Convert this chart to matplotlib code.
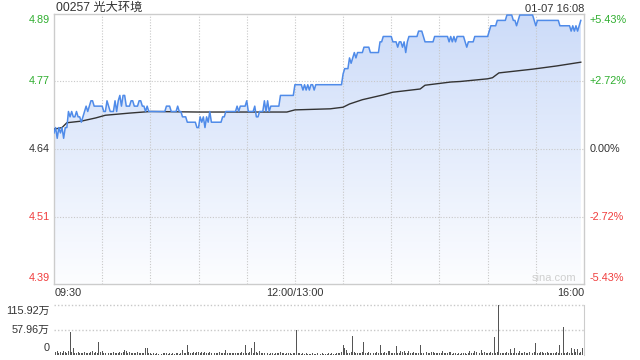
import numpy as np
import matplotlib
matplotlib.use('Agg')
import matplotlib.pyplot as plt
from matplotlib.patches import Polygon

plt.rcParams['font.family'] = ['Liberation Sans', 'Noto Sans CJK SC', 'DejaVu Sans']

# ---------------- data ----------------
title = '00257 光大环境'
stamp = '01-07 16:08'
prev_close = 4.64
pct_limit = 5.43
price_labels = ['4.89', '4.77', '4.64', '4.51', '4.39']
pct_labels = ['+5.43%', '+2.72%', '0.00%', '-2.72%', '-5.43%']
pct_levels = [5.43, 2.72, 0.0, -2.72, -5.43]
time_labels = ['09:30', '12:00/13:00', '16:00']
session_minutes = 330
vol_labels = ['115.92万', '57.96万', '0']
vol_levels = [115.92, 57.96, 0]

# one price per minute from 09:30
price = [
    4.67, 4.68, 4.66, 4.68, 4.67, 4.68, 4.66, 4.68, 4.68, 4.71,
    4.70, 4.71, 4.70, 4.70, 4.71, 4.70, 4.70, 4.69, 4.70, 4.71,
    4.72, 4.71, 4.72, 4.73, 4.73, 4.72, 4.72, 4.72, 4.72, 4.72,
    4.72, 4.71, 4.71, 4.73, 4.72, 4.71, 4.71, 4.71, 4.73, 4.71,
    4.73, 4.74, 4.72, 4.74, 4.74, 4.72, 4.72, 4.72, 4.73, 4.73,
    4.72, 4.72, 4.72, 4.73, 4.73, 4.72, 4.72, 4.71, 4.72, 4.71,
    4.71, 4.71, 4.71, 4.71, 4.71, 4.71, 4.71, 4.71, 4.71, 4.71,
    4.72, 4.72, 4.72, 4.71, 4.71, 4.71, 4.71, 4.72, 4.71, 4.71,
    4.70, 4.70, 4.70, 4.69, 4.69, 4.69, 4.69, 4.69, 4.69, 4.68,
    4.68, 4.70, 4.69, 4.70, 4.68, 4.70, 4.69, 4.71, 4.69, 4.69,
    4.69, 4.69, 4.69, 4.69, 4.69, 4.70, 4.70, 4.71, 4.71, 4.71,
    4.71, 4.71, 4.71, 4.71, 4.72, 4.71, 4.72, 4.72, 4.72, 4.72,
    4.73, 4.71, 4.71, 4.71, 4.71, 4.72, 4.70, 4.70, 4.71, 4.71,
    4.71, 4.73, 4.71, 4.73, 4.71, 4.72, 4.72, 4.72, 4.72, 4.72,
    4.72, 4.74, 4.74, 4.74, 4.74, 4.74, 4.74, 4.74, 4.74, 4.74,
    4.76, 4.76, 4.76, 4.76, 4.76, 4.75, 4.76, 4.75, 4.76, 4.75,
    4.76, 4.76, 4.75, 4.76, 4.76, 4.76, 4.76, 4.76, 4.76, 4.76,
    4.76, 4.76, 4.76, 4.76, 4.76, 4.76, 4.76, 4.76, 4.76, 4.76,
    4.78, 4.79, 4.79, 4.79, 4.81, 4.80, 4.81, 4.82, 4.81, 4.82,
    4.82, 4.82, 4.82, 4.83, 4.83, 4.83, 4.83, 4.82, 4.82, 4.82,
    4.82, 4.82, 4.82, 4.84, 4.84, 4.85, 4.85, 4.85, 4.85, 4.85,
    4.85, 4.84, 4.84, 4.84, 4.83, 4.84, 4.84, 4.83, 4.84, 4.82,
    4.84, 4.85, 4.85, 4.85, 4.85, 4.85, 4.85, 4.86, 4.86, 4.86,
    4.85, 4.84, 4.84, 4.84, 4.84, 4.84, 4.84, 4.85, 4.85, 4.85,
    4.85, 4.85, 4.85, 4.85, 4.85, 4.85, 4.84, 4.85, 4.84, 4.85,
    4.84, 4.85, 4.85, 4.85, 4.85, 4.85, 4.84, 4.83, 4.84, 4.84,
    4.84, 4.84, 4.85, 4.85, 4.85, 4.85, 4.85, 4.85, 4.85, 4.85,
    4.85, 4.86, 4.87, 4.87, 4.87, 4.87, 4.88, 4.88, 4.88, 4.88,
    4.88, 4.88, 4.89, 4.89, 4.89, 4.89, 4.88, 4.88, 4.87, 4.88,
    4.89, 4.89, 4.89, 4.89, 4.89, 4.89, 4.89, 4.89, 4.89, 4.88,
    4.87, 4.88, 4.88, 4.88, 4.88, 4.88, 4.88, 4.88, 4.88, 4.88,
    4.88, 4.88, 4.88, 4.88, 4.88, 4.87, 4.87, 4.87, 4.87, 4.87,
    4.87, 4.87, 4.86, 4.87, 4.86, 4.87, 4.86, 4.87, 4.88,
]

avg_minutes = [0, 5, 8, 17, 26, 32, 47, 60, 90, 115, 145, 150, 172, 180,
               184, 192, 205, 211, 228, 231, 247, 253, 270, 273, 277, 298,
               313, 328]
avg_price = [4.677, 4.680, 4.689, 4.692, 4.698, 4.703, 4.707, 4.710, 4.709,
             4.709, 4.709, 4.713, 4.715, 4.718, 4.724, 4.732, 4.741, 4.746,
             4.752, 4.759, 4.765, 4.766, 4.771, 4.773, 4.782, 4.789, 4.795,
             4.802]

# volume per minute, in 万 shares
volume = [
    8, 5, 9, 4, 6, 3, 7, 5, 4, 9,
    53, 6, 16, 4, 3, 5, 3, 4, 3, 5,
    3, 4, 3, 5, 9, 4, 6, 3, 30, 5,
    7, 4, 3, 5, 3, 4, 3, 5, 3, 4,
    4, 5, 3, 6, 10, 8, 4, 5, 3, 4,
    3, 4, 5, 3, 4, 3, 4, 16, 15, 4,
    3, 2, 3, 2, 3, 2, 3, 2, 3, 4,
    3, 2, 3, 2, 3, 2, 4, 3, 2, 3,
    10, 4, 4, 23, 5, 3, 4, 5, 4, 6,
    5, 4, 6, 4, 5, 3, 4, 5, 3, 4,
    3, 4, 3, 5, 4, 3, 4, 10, 4, 3,
    3, 4, 3, 4, 3, 4, 3, 5, 4, 23,
    4, 3, 5, 14, 4, 28, 6, 3, 7, 3,
    4, 3, 4, 3, 2, 3, 4, 2, 3, 4,
    3, 6, 4, 3, 2, 3, 4, 3, 2, 3,
    3, 56, 4, 3, 2, 3, 2, 3, 2, 2,
    2, 3, 2, 2, 3, 2, 2, 3, 2, 2,
    2, 3, 2, 3, 2, 2, 3, 4, 3, 5,
    23, 14, 10, 4, 3, 5, 44, 5, 4, 3,
    4, 3, 6, 28, 4, 3, 5, 4, 22, 4,
    3, 5, 4, 22, 4, 3, 5, 3, 8, 7,
    4, 3, 4, 20, 3, 4, 8, 5, 7, 3,
    3, 7, 4, 3, 5, 4, 3, 4, 23, 3,
    4, 62, 5, 4, 3, 5, 6, 4, 3, 4,
    4, 3, 8, 3, 4, 3, 6, 5, 2, 3,
    3, 2, 3, 2, 3, 4, 3, 2, 3, 8,
    4, 3, 8, 5, 4, 3, 10, 4, 5, 4,
    4, 3, 5, 4, 41, 4, 5, 115.5, 4, 3,
    3, 4, 5, 4, 13, 4, 3, 15, 3, 4,
    8, 3, 4, 5, 3, 4, 6, 3, 4, 5,
    26, 3, 4, 6, 6, 4, 3, 5, 4, 3,
    3, 4, 3, 5, 4, 21, 3, 64, 4, 3,
    5, 4, 15, 4, 12, 5, 13, 4, 6, 16, 69,
]

# ---------------- styles ----------------
GREEN = '#2fae2f'
RED = '#f03c3c'
DARK = '#333333'
GRID = '#c8c8c8'
BORDER = '#cccccc'
LINE = '#4f8be9'

W, H = 640, 360
fig = plt.figure(figsize=(W / 100, H / 100), dpi=100)

ax = fig.add_axes([54 / W, 1 - 284 / H, 530 / W, 270 / H])
ymin = prev_close * (1 - pct_limit / 100)
ymax = prev_close * (1 + pct_limit / 100)

minutes = np.arange(len(price))

# gradient fill under price line
verts = [(minutes[0], ymin)] + list(zip(minutes, price)) + [(minutes[-1], ymin)]
poly = Polygon(verts, closed=True, facecolor='none', edgecolor='none')
ax.add_patch(poly)
grad = np.linspace(1, 0, 256)[:, None, None]
top_c = np.array([0.80, 0.86, 0.975])
bot_c = np.array([0.99, 0.993, 1.0])
img = grad * top_c + (1 - grad) * bot_c
im = ax.imshow(img, extent=[0, session_minutes, ymin, ymax], aspect='auto',
               origin='upper', zorder=1, interpolation='bilinear')
im.set_clip_path(poly)

# grid
for k in range(1, 11):
    ax.axvline(k * 30, color=GRID, lw=0.8, ls=(0, (1, 1.5)), zorder=2)
for p in pct_levels[1:-1]:
    ax.axhline(prev_close * (1 + p / 100), color=GRID, lw=0.8,
               ls=(0, (1, 1.5)), zorder=2)

ax.plot(minutes, price, color=LINE, lw=1.1, zorder=4)
ax.plot(avg_minutes, avg_price, color=DARK, lw=1.0, zorder=3)

ax.set_xlim(0, session_minutes)
ax.set_ylim(ymin, ymax)
ax.set_xticks([])
ax.set_yticks([])
for s in ax.spines.values():
    s.set_color(BORDER)
    s.set_linewidth(1)

fs = 7.8
colors = [GREEN, GREEN, DARK, RED, RED]
offsets = [-6, 0, 0, 0, 6]
for lab, pct_lab, p, c, dy in zip(price_labels, pct_labels, pct_levels, colors, offsets):
    yv = prev_close * (1 + p / 100)
    ax.annotate(lab, xy=(0, yv), xycoords=('axes fraction', 'data'),
                xytext=(-4, dy), textcoords='offset pixels',
                ha='right', va='center', color=c, fontsize=fs)
    ax.annotate(pct_lab, xy=(1, yv), xycoords=('axes fraction', 'data'),
                xytext=(6, dy), textcoords='offset pixels',
                ha='left', va='center', color=c, fontsize=fs)

ax.text(0.003, 1.0, title, transform=ax.transAxes, ha='left', va='bottom',
        fontsize=8.8, color=DARK)
ax.annotate(title, xy=(0, 1), xycoords='axes fraction', alpha=0)
ax.text(1.0, 1.0, stamp, transform=ax.transAxes, ha='right', va='bottom',
        fontsize=8, color=DARK)
ax.text(0.985, 0.005, 'sina.com', transform=ax.transAxes, ha='right',
        va='bottom', fontsize=8, color='#cfcfcf')

# time labels
ax.annotate(time_labels[0], xy=(0, 0), xycoords='axes fraction',
            xytext=(1, -9), textcoords='offset pixels', ha='left',
            va='center', fontsize=fs, color=DARK)
ax.annotate(time_labels[1], xy=(150, 0), xycoords=('data', 'axes fraction'),
            xytext=(0, -9), textcoords='offset pixels', ha='center',
            va='center', fontsize=fs, color=DARK)
ax.annotate(time_labels[2], xy=(1, 0), xycoords='axes fraction',
            xytext=(0, -9), textcoords='offset pixels', ha='right',
            va='center', fontsize=fs, color=DARK)

# volume panel
vax = fig.add_axes([54 / W, 1 - 354.5 / H, 530 / W, 50 / H])
vax.bar(np.arange(len(volume)), volume, width=0.6, color='#555555', lw=0,
        zorder=3)
vax.set_xlim(0, session_minutes)
vax.set_ylim(0, vol_levels[0])
vax.set_xticks([])
vax.set_yticks([])
for side in ['left', 'top', 'bottom']:
    vax.spines[side].set_visible(False)
vax.spines['right'].set_color(BORDER)
vax.axhline(vol_levels[0], color=GRID, lw=1.0, ls=(0, (1, 1.5)), zorder=1,
            clip_on=False)
vax.axhline(vol_levels[1], color=GRID, lw=1.0, ls=(0, (1, 1.5)), zorder=1)
voffs = [-6.5, 0, 6.5]
for lab, lv, dy in zip(vol_labels, vol_levels, voffs):
    vax.annotate(lab, xy=(0, lv), xycoords=('axes fraction', 'data'),
                 xytext=(-4, dy), textcoords='offset pixels', ha='right',
                 va='center', fontsize=fs, color=DARK)

fig.savefig('out.png', dpi=100)
